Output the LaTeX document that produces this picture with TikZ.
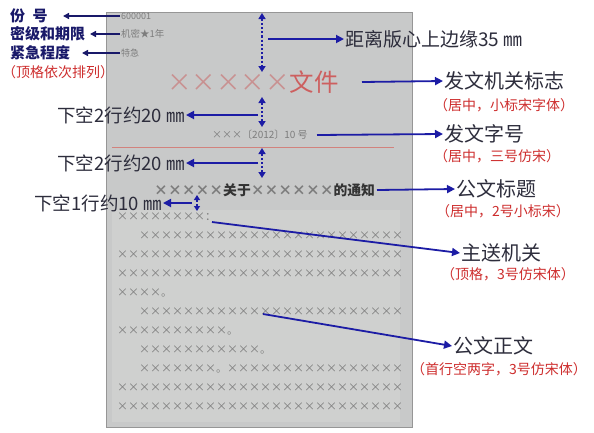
\documentclass[tikz,border=0pt]{standalone}
\usepackage{fontspec}
\setmainfont{Noto Sans CJK SC}
\newfontfamily\fw[CharacterWidth=Full]{Noto Sans CJK SC}
\usetikzlibrary{arrows.meta}
\definecolor{paper}{RGB}{200,201,201}
\definecolor{paperlt}{RGB}{207,208,207}
\definecolor{paperedge}{RGB}{150,150,150}
\definecolor{navy}{RGB}{25,25,105}
\definecolor{arrblue}{RGB}{28,28,165}
\definecolor{notered}{RGB}{205,45,45}
\definecolor{labeltxt}{RGB}{45,45,60}
\definecolor{xgray}{RGB}{125,125,125}
\definecolor{paletx}{RGB}{200,145,145}
\definecolor{palered}{RGB}{205,95,95}
\definecolor{redline}{RGB}{210,130,125}
\newcommand{\fs}[1]{\fontsize{#1}{#1}\selectfont}
\newcommand{\xrep}[1]{\ifnum#1>0 ×\expandafter\xrep\expandafter{\the\numexpr#1-1\relax}\fi}
\tikzset{
  txt/.style={inner sep=1pt, anchor=west},
  lbl/.style={txt, text=navy, font=\fs{15}\bfseries},
  note/.style={txt, text=notered, font=\fs{14}},
  big/.style={txt, text=labeltxt, font=\fs{20}},
  gaplbl/.style={inner sep=1pt, anchor=east, text=labeltxt, font=\fs{18.5}},
  ptxt/.style={txt, text=xgray, font=\fs{9}},
  body/.style={txt, text=xgray, font=\fw\fs{11}},
  larr/.style={draw=navy, line width=1.4pt, -{Triangle[length=6pt,width=6pt]}},
  arr/.style={draw=arrblue, line width=1.8pt, -{Triangle[length=8pt,width=8pt]}},
  dimarr/.style={draw=arrblue, line width=2.2pt, dash pattern=on 2.2pt off 2pt,
    {Triangle[length=6pt,width=7pt]}-{Triangle[length=6pt,width=7pt]}},
}
\begin{document}
\begin{tikzpicture}[x=1pt,y=-1pt]
\useasboundingbox (0,0) rectangle (594,432);
% paper
\fill[paper] (106,12) rectangle (412,427);
\fill[paperlt] (112,210) rectangle (400,422);
\draw[paperedge, line width=0.8pt] (106,12) rectangle (412,427);
% top-left labels
\node[lbl] (fenhao) at (9,16) {份\hspace{0.5em}号};
\node[lbl] (miji) at (9,34) {密级和期限};
\node[lbl] (jinji) at (9,53) {紧急程度};
\node[note] (dingge) at (1,72) {（顶格依次排列）};
\node[ptxt] (p600) at (120,16) {600001};
\node[ptxt, font=\fs{9.5}] (pmiji) at (120,34) {机密★1年};
\node[ptxt] (pjinji) at (120,53) {特急};
\coordinate (t600) at (63,16);
\coordinate (tmiji) at (90,34);
\coordinate (tjinji) at (82,53);
\draw[larr] (p600.west) -- (t600);
\draw[larr] (pmiji.west) -- (tmiji);
\draw[larr] (pjinji.west) -- (tjinji);
% issuing authority
\node[txt, font=\fs{24.5}] (wenjian) at (166,82) {{\color{paletx}\fw\xrep{5}}{\color{palered}文件}};
\coordinate (d1a) at (262,13);
\coordinate (d1b) at (262,72);
\draw[dimarr] (d1a) -- (d1b);
\coordinate (h1) at (268,39);
\node[big, font=\fs{19}] (juli) at (344,39) {距离版心上边缘35 ㎜};
\draw[arr] (h1) -- (juli.west);
\coordinate (h2) at (362,82);
\node[big] (fwjg) at (443,81) {发文机关标志};
\node[note] (note1) at (433,105) {（居中，小标宋字体）};
\draw[arr] (h2) -- (fwjg.west);
% gap 1
\coordinate (d2a) at (262,97);
\coordinate (d2b) at (262,127);
\draw[dimarr] (d2a) -- (d2b);
\coordinate (h3) at (258,115);
\node[gaplbl] (gap1) at (186,115) {下空2行约20 ㎜};
\draw[arr] (h3) -- (gap1.east);
% doc number
\node[ptxt, font=\fs{10}] (zihao) at (211,135) {{\fw\xrep{3}}〔2012〕10 号};
\coordinate (h4) at (317,135);
\node[big] (fwzh) at (443,134) {发文字号};
\node[note] (note2) at (433,156) {（居中，三号仿宋）};
\draw[arr] (h4) -- (fwzh.west);
\draw[redline, line width=1pt] (112,147) -- (394,147);
% gap 2
\coordinate (d3a) at (262,148);
\coordinate (d3b) at (262,178);
\draw[dimarr] (d3a) -- (d3b);
\coordinate (h5) at (258,163);
\node[gaplbl] (gap2) at (186,163) {下空2行约20 ㎜};
\draw[arr] (h5) -- (gap2.east);
% title
\node[txt, font=\fs{13.8}\bfseries, text=black!80] (title) at (153,190) {{\fw\color{xgray}\xrep{5}}关于{\fw\color{xgray}\xrep{6}}的通知};
\coordinate (h6) at (377,190);
\node[big] (gwbt) at (455,189) {公文标题};
\node[note] (note3) at (435,211) {（居中，2号小标宋）};
\draw[arr] (h6) -- (gwbt.west);
% gap 3
\coordinate (d4a) at (197,195);
\coordinate (d4b) at (197,211);
\draw[dimarr, {Triangle[length=5pt,width=6pt]}-{Triangle[length=5pt,width=6pt]}] (d4a) -- (d4b);
\coordinate (h7) at (192,203);
\node[gaplbl] (gap3) at (163,203) {下空1行约10 ㎜};
\draw[arr] (h7) -- (gap3.east);
% body
\node[body] (b1) at (116,217) {\xrep{8}：};
\node[body] (b2) at (138,236) {\xrep{24}};
\node[body] (b3) at (116,255) {\xrep{26}};
\node[body] (b4) at (116,274) {\xrep{26}};
\node[body] (b5) at (116,293) {\xrep{4}。};
\node[body] (b6) at (138,312) {\xrep{24}};
\node[body] (b7) at (116,331) {\xrep{10}。};
\node[body] (b8) at (138,350) {\xrep{11}。};
\node[body] (b9) at (138,369) {\xrep{7}。\xrep{16}};
\node[body] (b10) at (116,388) {\xrep{26}};
\node[body] (b11) at (116,407) {\xrep{26}};
% addressee
\coordinate (h8) at (212,222);
\node[big] (zsjg) at (460,253) {主送机关};
\node[note] (note4) at (440,274) {（顶格，3号仿宋体）};
\draw[arr] (h8) -- (zsjg.west);
% body text
\coordinate (h9) at (263,314);
\node[big] (gwzw) at (452,346) {公文正文};
\node[note] (note5) at (410,369) {（首行空两字，3号仿宋体）};
\draw[arr] (h9) -- (gwzw.west);
\end{tikzpicture}
\end{document}
